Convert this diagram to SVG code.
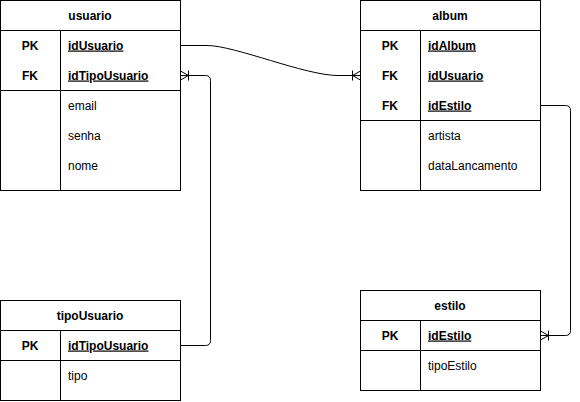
<svg xmlns="http://www.w3.org/2000/svg" width="580" height="402" viewBox="0 0 580 402">
  <style>
    .box { fill: #ffffff; stroke: #000000; stroke-width: 1; }
    .ln { fill: none; stroke: #000000; stroke-width: 1; }
    text { font-family: "Liberation Sans", Arial, sans-serif; font-size: 12px; fill: #000000; }
    .hd { font-weight: bold; text-anchor: middle; }
    .k { font-weight: bold; text-anchor: middle; }
    .kf { font-weight: bold; text-decoration: underline; }
    .f { font-weight: normal; }
    .edge { fill: none; stroke: #000000; stroke-width: 1; }
  </style>
  <defs>
    <marker id="erOneMany" markerUnits="userSpaceOnUse" markerWidth="20" markerHeight="20" refX="0" refY="0" orient="auto" overflow="visible" viewBox="-10 -10 20 20">
      <path d="M-8,0 L0,-4.5 M-8,0 L0,4.5 M-8,-5 L-8,5" fill="none" stroke="#000000" stroke-width="1"/>
    </marker>
  </defs>
  <rect x="0" y="0" width="580" height="402" fill="#ffffff"/>

  <g id="usuario">
    <rect class="box" x="0.5" y="0.5" width="180" height="190"/>
    <path class="ln" d="M0.5,30.5 H180.5 M0.5,90.5 H180.5 M60.5,30.5 V190.5"/>
    <text class="hd" x="90" y="19.5">usuario</text>
    <text class="k" x="30" y="49.5">PK</text>
    <text class="kf" x="68" y="49.5">idUsuario</text>
    <text class="k" x="30" y="79.5">FK</text>
    <text class="kf" x="68" y="79.5">idTipoUsuario</text>
    <text class="f" x="68" y="109.5">email</text>
    <text class="f" x="68" y="139.5">senha</text>
    <text class="f" x="68" y="169.5">nome</text>
  </g>

  <g id="album">
    <rect class="box" x="360.5" y="0.5" width="180" height="190"/>
    <path class="ln" d="M360.5,30.5 H540.5 M360.5,120.5 H540.5 M420.5,30.5 V190.5"/>
    <text class="hd" x="450" y="19.5">album</text>
    <text class="k" x="390" y="49.5">PK</text>
    <text class="kf" x="428" y="49.5">idAlbum</text>
    <text class="k" x="390" y="79.5">FK</text>
    <text class="kf" x="428" y="79.5">idUsuario</text>
    <text class="k" x="390" y="109.5">FK</text>
    <text class="kf" x="428" y="109.5">idEstilo</text>
    <text class="f" x="428" y="139.5">artista</text>
    <text class="f" x="428" y="169.5">dataLancamento</text>
  </g>

  <g id="tipoUsuario">
    <rect class="box" x="0.5" y="300.5" width="180" height="100"/>
    <path class="ln" d="M0.5,330.5 H180.5 M0.5,360.5 H180.5 M60.5,330.5 V400.5"/>
    <text class="hd" x="90" y="319.5">tipoUsuario</text>
    <text class="k" x="30" y="349.5">PK</text>
    <text class="kf" x="68" y="349.5">idTipoUsuario</text>
    <text class="f" x="68" y="379.5">tipo</text>
  </g>

  <g id="estilo">
    <rect class="box" x="360.5" y="290.5" width="180" height="100"/>
    <path class="ln" d="M360.5,320.5 H540.5 M360.5,350.5 H540.5 M420.5,320.5 V390.5"/>
    <text class="hd" x="450" y="309.5">estilo</text>
    <text class="k" x="390" y="339.5">PK</text>
    <text class="kf" x="428" y="339.5">idEstilo</text>
    <text class="f" x="428" y="369.5">tipoEstilo</text>
  </g>

  <g id="connectors">
    <path class="edge" d="M180.5,45.5 L207,45.5 C 235,45.5 305,75.5 338,75.5 L360.5,75.5" marker-end="url(#erOneMany)"/>
    <path class="edge" d="M180.5,345.5 L205.5,345.5 Q210.5,345.5 210.5,340.5 L210.5,80.5 Q210.5,75.5 205.5,75.5 L180.5,75.5" marker-end="url(#erOneMany)"/>
    <path class="edge" d="M540.5,105.5 L565.5,105.5 Q570.5,105.5 570.5,110.5 L570.5,330.5 Q570.5,335.5 565.5,335.5 L540.5,335.5" marker-end="url(#erOneMany)"/>
  </g>
</svg>
